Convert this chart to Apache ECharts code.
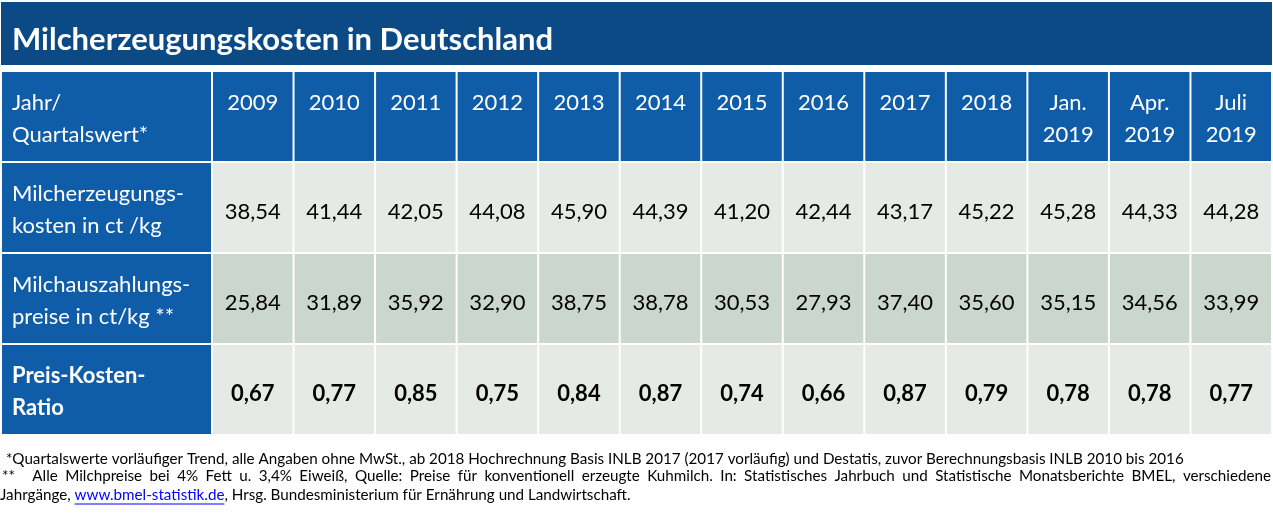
<!DOCTYPE html>
<html><head><meta charset="utf-8">
<script src="https://cdn.jsdelivr.net/npm/echarts@6/dist/echarts.min.js"></script>
<style>html,body{margin:0;padding:0;background:#fff}#c{width:1273px;height:530px}</style>
</head><body><div id="c"></div>
<script>
// ---- data ----
const titleText = 'Milcherzeugungskosten in Deutschland';
const columns = ['2009','2010','2011','2012','2013','2014','2015','2016','2017','2018','Jan.\n2019','Apr.\n2019','Juli\n2019'];
const rowKeys = ['header','costs','payouts','ratio'];
const rowLabels = ['Jahr/\nQuartalswert*','Milcherzeugungs-\nkosten in ct /kg','Milchauszahlungs-\npreise in ct/kg **','Preis-Kosten-\nRatio'];
const costs = [38.54,41.44,42.05,44.08,45.90,44.39,41.20,42.44,43.17,45.22,45.28,44.33,44.28];
const payouts = [25.84,31.89,35.92,32.90,38.75,38.78,30.53,27.93,37.40,35.60,35.15,34.56,33.99];
const ratios = [0.67,0.77,0.85,0.75,0.84,0.87,0.74,0.66,0.87,0.79,0.78,0.78,0.77];
const footnote1 = ' *Quartalswerte vorläufiger Trend, alle Angaben ohne MwSt., ab 2018 Hochrechnung Basis INLB 2017 (2017 vorläufig) und Destatis, zuvor Berechnungsbasis INLB 2010 bis 2016';
const footnote2 = '** Alle Milchpreise bei 4% Fett u. 3,4% Eiweiß, Quelle: Preise für konventionell erzeugte Kuhmilch. In: Statistisches Jahrbuch und Statistische Monatsberichte BMEL, verschiedene';
const footnote3a = 'Jahrgänge, ';
const footnoteLink = 'www.bmel-statistik.de';
const footnote3b = ', Hrsg. Bundesministerium für Ernährung und Landwirtschaft.';

// ---- style ----
const FONT = 'Lato, "Noto Sans", sans-serif';
const TITLE_BG = '#0c4a86';
const HEAD_BG = '#0f5ca8';
const LIGHT_BG = '#e6eae6';
const DARK_BG = '#cbd6cf';
const CELL_FS = 22;
const NOTE_FS = 15.2;

const fmt = v => v.toFixed(2).replace('.', ',');

// cells of the data grid
const dataCells = [], dataTexts = [];
columns.forEach((c, i) => {
  dataCells.push([i, 0]); dataTexts.push(c);
  dataCells.push([i, 1]); dataTexts.push(fmt(costs[i]));
  dataCells.push([i, 2]); dataTexts.push(fmt(payouts[i]));
  dataCells.push([i, 3]); dataTexts.push(fmt(ratios[i]));
});
const labelCells = rowLabels.map((t, r) => [0, r]);

function makeRenderer(isLabel, texts) {
  return function (params, api) {
    const xi = api.value(0), yi = api.value(1);
    const c = api.coord([xi, yi]);
    const s = api.size([1, 1]);
    const left = c[0] - s[0] / 2 + 1, top = c[1] - s[1] / 2 + 1;
    const w = s[0] - 2, h = s[1] - 2;
    const blue = isLabel || yi === 0;
    const fill = blue ? HEAD_BG : (yi === 2 ? DARK_BG : LIGHT_BG);
    const txt = texts[params.dataIndex];
    const bold = yi === 3;
    let tx, ty, align, valign;
    if (isLabel) { tx = left + 10; align = 'left'; }
    else { tx = left + w / 2; align = 'center'; }
    if (yi === 0) { ty = top + 15; valign = 'top'; }
    else { ty = top + h / 2 + (isLabel ? 2 : 4); valign = 'middle'; }
    return {
      type: 'group',
      children: [
        { type: 'rect', shape: { x: left, y: top, width: w, height: h }, style: { fill: fill } },
        { type: 'text', style: {
            text: txt, x: tx, y: ty, align: align, verticalAlign: valign,
            fill: blue ? '#ffffff' : '#000000',
            fontSize: CELL_FS, fontFamily: FONT, fontWeight: bold ? 'bold' : 'normal',
            lineHeight: 32 } }
      ]
    };
  };
}

// ---- footnotes layout (text measured, words justified) ----
const cv = document.createElement('canvas').getContext('2d');
const noteFont = NOTE_FS + 'px ' + FONT;
cv.font = noteFont;
const noteStyle = (t, x, y, color) => ({ type: 'text', left: x, top: y, style: { text: t, fill: color || '#000', font: noteFont }, silent: true });
const graphics = [];
graphics.push({ type: 'rect', left: 1, top: 2, shape: { width: 1271, height: 63 }, style: { fill: TITLE_BG }, silent: true });
graphics.push({ type: 'text', left: 12, top: 24, style: { text: titleText, fill: '#fff', font: 'bold 31px ' + FONT }, silent: true });
graphics.push(noteStyle(footnote1, 2, 452));
(function () {
  const words = footnote2.split(' ');
  const widths = words.map(wd => cv.measureText(wd).width);
  const total = widths.reduce((a, b) => a + b, 0);
  const x0 = 2, x1 = 1271;
  const markerExtra = 10; // wider space after the "**" marker
  const gaps = words.length - 1;
  const gap = (x1 - x0 - total - markerExtra) / gaps;
  let x = x0;
  words.forEach((wd, i) => {
    graphics.push(noteStyle(wd, x, 469));
    x += widths[i] + gap + (i === 0 ? markerExtra : 0);
  });
})();
(function () {
  const wa = cv.measureText(footnote3a).width;
  const wl = cv.measureText(footnoteLink).width;
  graphics.push(noteStyle(footnote3a, 0, 488));
  graphics.push(noteStyle(footnoteLink, wa, 488, '#0000ff'));
  graphics.push({ type: 'line', shape: { x1: wa, y1: 504, x2: wa + wl, y2: 504 }, style: { stroke: '#0000ff', lineWidth: 1 }, silent: true });
  graphics.push(noteStyle(footnote3b, wa + wl, 488));
})();

const chart = echarts.init(document.getElementById('c'), null, { renderer: 'canvas' });
chart.setOption({
  animation: false,
  backgroundColor: '#ffffff',
  grid: [
    { left: 1, top: 71, width: 211, height: 364 },
    { left: 212, top: 71, width: 1060, height: 364 }
  ],
  xAxis: [
    { gridIndex: 0, type: 'category', data: ['label'], show: false },
    { gridIndex: 1, type: 'category', data: columns, show: false }
  ],
  yAxis: [
    { gridIndex: 0, type: 'category', data: rowKeys, inverse: true, show: false },
    { gridIndex: 1, type: 'category', data: rowKeys, inverse: true, show: false }
  ],
  series: [
    { type: 'custom', xAxisIndex: 0, yAxisIndex: 0, data: labelCells, renderItem: makeRenderer(true, rowLabels), silent: true },
    { type: 'custom', xAxisIndex: 1, yAxisIndex: 1, data: dataCells, renderItem: makeRenderer(false, dataTexts), silent: true }
  ],
  graphic: graphics
});
</script></body></html>
